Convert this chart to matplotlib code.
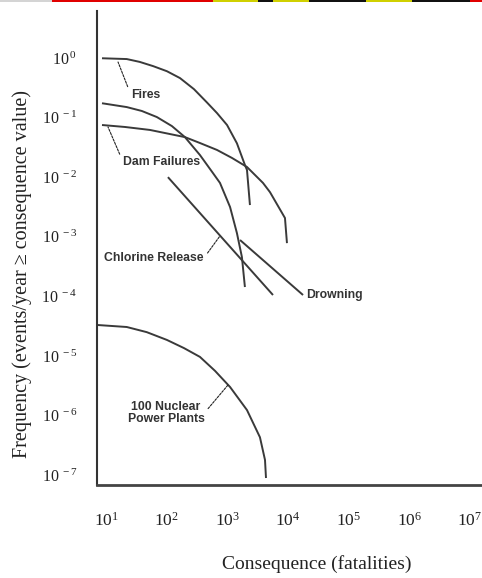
import matplotlib
matplotlib.use("Agg")
from matplotlib import pyplot as plt
from matplotlib.patches import Rectangle
from matplotlib.ticker import FixedLocator, FixedFormatter, NullLocator

# curves (x = fatalities, y = events/year)
fires_x = [8.6, 22, 36, 60, 101, 166, 282, 460, 676, 990, 1440, 1950, 2110, 2360]
fires_y = [0.99, 0.96, 0.86, 0.73, 0.60, 0.46, 0.30, 0.18, 0.119, 0.075, 0.037, 0.016, 0.0132, 0.0034]

upper_x = [8.6, 22, 39, 69, 122, 200, 354, 580, 757, 1110, 1440, 1740, 1950]
upper_y = [0.174, 0.150, 0.129, 0.102, 0.072, 0.047, 0.0235, 0.0117, 0.0080, 0.00315, 0.00115,
           0.000456, 0.000143]

dam_x = [8.6, 20.6, 53, 200, 354, 676, 1194, 2110, 3870, 5050, 8920, 9620]
dam_y = [0.075, 0.0695, 0.062, 0.047, 0.0374, 0.0286, 0.0210, 0.0148, 0.0080, 0.0056, 0.00206, 0.00078]

chlorine_x = [105, 5660]
chlorine_y = [0.01, 0.000105]

drowning_x = [1620, 17700]
drowning_y = [0.00088, 0.000105]

nuclear_x = [7.1, 22, 47, 101, 193, 354, 627, 1110, 2110, 3450, 4180, 4340]
nuclear_y = [3.3e-5, 3.05e-5, 2.5e-5, 1.85e-5, 1.35e-5, 9.6e-6, 5.6e-6, 3.0e-6, 1.23e-6, 4.3e-7,
             1.79e-7, 8.9e-8]

x_exps = [1, 2, 3, 4, 5, 6, 7]
y_exps = [0, -1, -2, -3, -4, -5, -6, -7]

plt.rcParams['font.family'] = ['Liberation Serif', 'DejaVu Serif']
plt.rcParams['mathtext.fontset'] = 'custom'
plt.rcParams['mathtext.rm'] = 'Liberation Serif'

fig = plt.figure(figsize=(4.82, 5.78), dpi=100)
ax = fig.add_axes([0.20124, 0.16090, 0.79876, 0.82007])

# scan strip along the top edge
strip = [(0, 52, '#d4d4d4'), (52, 213, '#e00000'), (213, 258, '#d0d000'),
         (258, 273, '#111111'), (273, 309, '#d0d000'), (309, 366, '#111111'),
         (366, 412, '#d0d000'), (412, 470, '#111111'), (470, 482, '#e00000')]
for a, b, c in strip:
    fig.patches.append(Rectangle((a / 482, 1 - 2 / 578), (b - a) / 482, 2 / 578,
                                 transform=fig.transFigure, color=c, lw=0))

lc = '#3a3a3a'
for xs, ys in [(fires_x, fires_y), (upper_x, upper_y), (dam_x, dam_y),
               (chlorine_x, chlorine_y), (drowning_x, drowning_y), (nuclear_x, nuclear_y)]:
    ax.plot(xs, ys, color=lc, lw=1.4, solid_capstyle='butt', solid_joinstyle='round')

ax.set_xscale('log')
ax.set_yscale('log')
ax.set_xlim(10 ** 0.852, 10 ** 7.198)
ax.set_ylim(10 ** -7.168, 10 ** 0.789)

ax.xaxis.set_major_locator(FixedLocator([10.0 ** e for e in x_exps]))
ax.xaxis.set_major_formatter(FixedFormatter([r'$\mathregular{10^{%d}}$' % e for e in x_exps]))
ax.yaxis.set_major_locator(FixedLocator([10.0 ** e for e in y_exps]))
ax.yaxis.set_major_formatter(FixedFormatter([r'$\mathregular{10^{\,%d}}$' % e for e in y_exps]))
ax.xaxis.set_minor_locator(NullLocator())
ax.yaxis.set_minor_locator(NullLocator())
ax.tick_params(axis='x', length=0, pad=19, labelsize=12.5, colors='#222222')
ax.tick_params(axis='y', length=0, pad=14, labelsize=11.5, colors='#222222')

for s in ['top', 'right']:
    ax.spines[s].set_visible(False)
ax.spines['left'].set_linewidth(1.5)
ax.spines['left'].set_color('#333333')
ax.spines['bottom'].set_linewidth(2)
ax.spines['bottom'].set_color('#444444')

fig.text(317 / 482, 1 - 564 / 578, 'Consequence (fatalities)', ha='center', va='center',
         fontsize=14, color='#222222')
fig.text(22 / 482, 1 - 274 / 578, 'Frequency (events/year \u2265 consequence value)',
         ha='center', va='center', rotation=90, fontsize=14.5, color='#222222')

lab = dict(fontsize=8.8, fontweight='bold', family=['Liberation Sans', 'DejaVu Sans'], color='#333333')
lead = dict(arrowstyle='-', lw=0.8, ls=(0, (2, 1.2)), color='#222222', shrinkA=1, shrinkB=0)

ax.annotate('Fires', xy=(15.8, 0.857), xytext=(25.8, 0.239), ha='left', va='center',
            arrowprops=dict(relpos=(0, 0.5), **lead), **lab)
ax.annotate('Dam Failures', xy=(10.8, 0.0695), xytext=(19.1, 0.018), ha='left', va='center',
            arrowprops=dict(relpos=(0, 0.5), **lead), **lab)
ax.annotate('Chlorine Release', xy=(757, 1.03e-3), xytext=(412, 4.4e-4), ha='right', va='center',
            arrowprops=dict(relpos=(1, 0.5), **lead), **lab)
ax.text(19800, 1.05e-4, 'Drowning', ha='left', va='center', **lab)
ax.annotate('100 Nuclear\nPower Plants', xy=(1026, 3.24e-6), xytext=(97.5, 1.1e-6),
            ha='center', va='center', multialignment='center', linespacing=1.1,
            arrowprops=dict(relpos=(1, 0.5), **lead), **lab)

plt.savefig('out.png', dpi=100)
